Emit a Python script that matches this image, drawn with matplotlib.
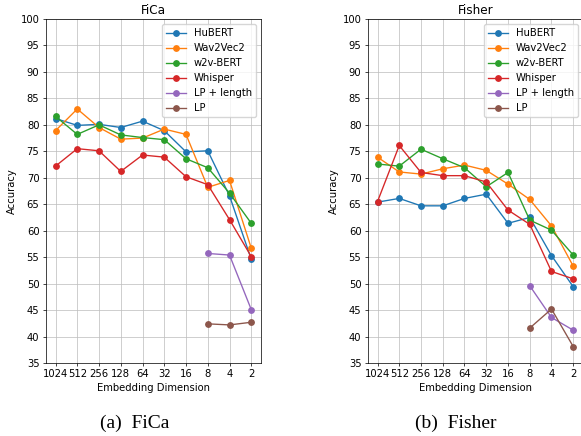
import numpy as np
import matplotlib
matplotlib.use('Agg')
import matplotlib.pyplot as plt

dims = ['1024', '512', '256', '128', '64', '32', '16', '8', '4', '2']
lp_dims = ['8', '4', '2']

# FiCa
fica_hubert = [81.2, 79.9, 80.1, 79.5, 80.7, 78.9, 74.9, 75.1, 66.6, 54.6]
fica_wav2vec2 = [78.9, 83.0, 79.5, 77.3, 77.5, 79.2, 78.2, 68.2, 69.5, 56.7]
fica_w2vbert = [81.6, 78.2, 80.0, 78.1, 77.6, 77.2, 73.6, 71.9, 67.1, 61.4]
fica_whisper = [72.2, 75.5, 75.1, 71.2, 74.3, 73.9, 70.2, 68.7, 62.1, 55.1]
fica_lp_length = [55.7, 55.4, 45.1]
fica_lp = [42.4, 42.2, 42.7]

# Fisher
fisher_hubert = [65.4, 66.1, 64.7, 64.7, 66.1, 66.9, 61.4, 62.5, 55.3, 49.4]
fisher_wav2vec2 = [73.9, 71.1, 70.7, 71.7, 72.4, 71.4, 68.8, 65.9, 60.9, 53.3]
fisher_w2vbert = [72.6, 72.2, 75.4, 73.6, 71.9, 68.3, 71.0, 62.0, 60.1, 55.4]
fisher_whisper = [65.5, 76.1, 71.0, 70.4, 70.4, 69.2, 63.9, 61.2, 52.3, 50.9]
fisher_lp_length = [49.6, 43.6, 41.2]
fisher_lp = [41.6, 45.2, 38.1]

s = 0.65   # the panels look like default matplotlib shrunk down
ts = 0.72  # text comes out a touch bigger than the lines
plt.rcParams.update({
    'font.size': 10 * ts,
    'lines.linewidth': 1.5 * s,
    'lines.markersize': 6 * s,
    'axes.linewidth': 0.8 * s,
    'grid.linewidth': 0.8 * s,
    'grid.color': '#bdbdbd',
    'xtick.major.width': 0.8 * s,
    'ytick.major.width': 0.8 * s,
    'xtick.major.size': 3.5 * s,
    'ytick.major.size': 3.5 * s,
    'xtick.major.pad': 3.5 * s,
    'ytick.major.pad': 3.5 * s,
    'axes.labelpad': 4 * s,
    'axes.titlepad': 6 * s,
})


def draw_panel(ax, title, hubert, wav2vec2, w2vbert, whisper, lp_length, lp):
    x = np.arange(len(dims))
    x_lp = np.array([dims.index(d) for d in lp_dims])
    ax.plot(x, hubert, marker='o', label='HuBERT')
    ax.plot(x, wav2vec2, marker='o', label='Wav2Vec2')
    ax.plot(x, w2vbert, marker='o', label='w2v-BERT')
    ax.plot(x, whisper, marker='o', label='Whisper')
    ax.plot(x_lp, lp_length, marker='o', label='LP + length')
    ax.plot(x_lp, lp, marker='o', label='LP')
    ax.set_xticks(x)
    ax.set_xticklabels(dims)
    ax.set_ylim(35, 100)
    ax.set_yticks(np.arange(35, 101, 5))
    ax.set_xlabel('Embedding Dimension')
    ax.set_ylabel('Accuracy')
    ax.set_title(title, fontsize=12 * ts)
    ax.grid(True)
    ax.legend(loc='upper right')


fig = plt.figure(figsize=(5.81, 4.36), dpi=100)
ax1 = fig.add_axes([0.0787, 0.1674, 0.3706, 0.789])
ax2 = fig.add_axes([0.6329, 0.1674, 0.3706, 0.789])

draw_panel(ax1, 'FiCa', fica_hubert, fica_wav2vec2, fica_w2vbert,
           fica_whisper, fica_lp_length, fica_lp)
draw_panel(ax2, 'Fisher', fisher_hubert, fisher_wav2vec2, fisher_w2vbert,
           fisher_whisper, fisher_lp_length, fisher_lp)

# subfigure captions
fig.text(134.6 / 581, 1 - 423 / 436, '(a)  FiCa', ha='center', va='center',
         family='Liberation Serif', fontsize=14)
fig.text(455.5 / 581, 1 - 423 / 436, '(b)  Fisher', ha='center', va='center',
         family='Liberation Serif', fontsize=14)

fig.savefig('out.png', dpi=100)
